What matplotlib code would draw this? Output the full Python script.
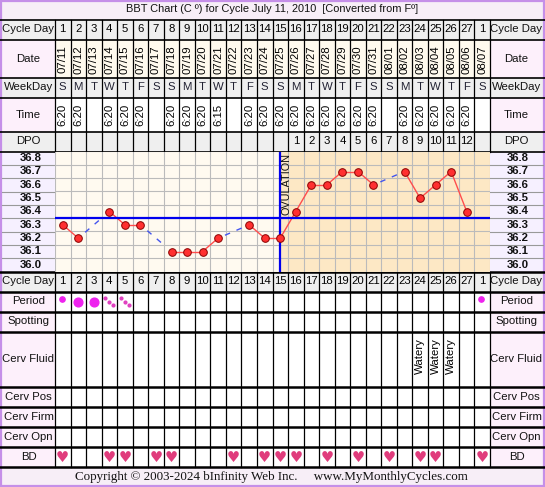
import numpy as np
import matplotlib.pyplot as plt
from matplotlib.patches import Rectangle

# ---- data ----
days = list(range(1, 29))
cycle_day = list(range(1, 28)) + [1]
dates = ['07/11', '07/12', '07/13', '07/14', '07/15', '07/16', '07/17', '07/18', '07/19', '07/20',
         '07/21', '07/22', '07/23', '07/24', '07/25', '07/26', '07/27', '07/28', '07/29', '07/30',
         '07/31', '08/01', '08/02', '08/03', '08/04', '08/05', '08/06', '08/07']
weekdays = list('SMTWTFS' * 4)
times = ['6:20', '6:20', '', '6:20', '6:20', '6:20', '', '6:20', '6:20', '6:20', '6:15', '',
         '6:20', '6:20', '6:20', '6:20', '6:20', '6:20', '6:20', '6:20', '6:20', '',
         '6:20', '6:20', '6:20', '6:20', '6:20', '']
dpo = [''] * 15 + [str(i) for i in range(1, 13)] + ['']
temps = [36.3, 36.2, None, 36.4, 36.3, 36.3, None, 36.1, 36.1, 36.1, 36.2, None, 36.3, 36.2,
         36.2, 36.4, 36.6, 36.6, 36.7, 36.7, 36.6, None, 36.7, 36.5, 36.6, 36.7, 36.4, None]
temp_labels = ['36.8', '36.7', '36.6', '36.5', '36.4', '36.3', '36.2', '36.1', '36.0']
coverline = 36.35
ovulation_day = 15
period_days = [1, 2, 3, 4, 5, 28]
period_type = ['light', 'heavy', 'heavy', 'spot', 'spot', 'light']
fluid_days = [24, 25, 26]
fluid_text = ['Watery', 'Watery', 'Watery']
bd_days = [1, 4, 5, 7, 8, 12, 14, 15, 16, 18, 20, 22, 24, 25, 28]

plt.rcParams['font.family'] = ['Liberation Sans', 'DejaVu Sans']

W, H = 545, 487
fig = plt.figure(figsize=(W / 100, H / 100), dpi=100)
ax = fig.add_axes([0, 0, 1, 1])
ax.set_xlim(0, W)
ax.set_ylim(H, 0)
ax.axis('off')

L, R = 55, 490
cw = (R - L) / 28.0
def cx(d):
    return L + (d - 0.5) * cw

# row boundaries (pixels)
rows = {
    'title': (0, 19.5), 'cd': (19.5, 39.5), 'date': (39.5, 77.5), 'wd': (77.5, 97.5),
    'time': (97.5, 131.5), 'dpo': (131.5, 151.5), 'temp': (151.5, 271.5),
    'cd2': (271.5, 291.5), 'period': (291.5, 311.5), 'spot': (311.5, 331.5),
    'fluid': (331.5, 386.5), 'pos': (386.5, 406.5), 'firm': (406.5, 426.5),
    'opn': (426.5, 446.5), 'bd': (446.5, 466.5), 'copy': (466.5, 487),
}
gray = '#efefef'
pink = '#fdf0fb'
lav = '#f6f0ff'
row_bg = {'cd': (gray, gray), 'date': (pink, '#fffaee'), 'wd': (gray, gray),
          'time': (pink, 'white'), 'dpo': (gray, gray), 'temp': (lav, None),
          'cd2': (gray, gray), 'period': (pink, 'white'), 'spot': (pink, 'white'),
          'fluid': (pink, 'white'), 'pos': (pink, 'white'), 'firm': (pink, 'white'),
          'opn': (pink, 'white'), 'bd': (pink, 'white')}

ax.add_patch(Rectangle((0, 0), W, 19.5, color='#f7eef7', lw=0))
ax.add_patch(Rectangle((0, 466.5), W, H - 466.5, color='#f7eef7', lw=0))
for key, (lab_c, cell_c) in row_bg.items():
    y0, y1 = rows[key]
    ax.add_patch(Rectangle((0, y0), L, y1 - y0, color=lab_c, lw=0))
    ax.add_patch(Rectangle((R, y0), W - R, y1 - y0, color=lab_c, lw=0))
    if cell_c:
        ax.add_patch(Rectangle((L, y0), R - L, y1 - y0, color=cell_c, lw=0))

fs = 8.2
def mid(key):
    return sum(rows[key]) / 2

labels = {'cd': 'Cycle Day', 'date': 'Date', 'wd': 'WeekDay', 'time': 'Time', 'dpo': 'DPO',
          'cd2': 'Cycle Day', 'period': 'Period', 'spot': 'Spotting', 'fluid': 'Cerv Fluid',
          'pos': 'Cerv Pos', 'firm': 'Cerv Firm', 'opn': 'Cerv Opn', 'bd': 'BD'}
for key, txt in labels.items():
    for x in (L / 2 + 1, (R + W) / 2 - 1):
        ax.text(x, mid(key), txt, ha='center', va='center', fontsize=fs, color='#111111')

# temperature labels in both side columns
ty0, ty1 = rows['temp']
rh = (ty1 - ty0) / len(temp_labels)
for i, t in enumerate(temp_labels):
    yc = ty0 + (i + 0.5) * rh
    for x in (L / 2 + 3, (R + W) / 2):
        ax.text(x, yc, t, ha='center', va='center', fontsize=8.2, fontweight='bold', color='#111111')
    if i > 0:
        for xa, xb in ((2, L), (R, W - 2)):
            ax.plot([xa, xb], [ty0 + i * rh] * 2, color='#999999', lw=0.8)

# cell contents
for i, d in enumerate(days):
    x = cx(d)
    ax.text(x, mid('cd'), str(cycle_day[i]), ha='center', va='center', fontsize=fs)
    ax.text(x, mid('cd2'), str(cycle_day[i]), ha='center', va='center', fontsize=fs)
    ax.text(x, mid('date') + 1, dates[i], ha='center', va='center', rotation=90, fontsize=fs)
    ax.text(x, mid('wd'), weekdays[i], ha='center', va='center', fontsize=fs, color='#222233')
    if times[i]:
        ax.text(x, mid('time'), times[i], ha='center', va='center', rotation=90, fontsize=fs)
    if dpo[i]:
        ax.text(x, mid('dpo'), dpo[i], ha='center', va='center', fontsize=fs)

for d, kind in zip(period_days, period_type):
    x, y = cx(d), mid('period')
    if kind == 'heavy':
        ax.plot(x, y, 'o', ms=6.3, color='#ee22ee', mec='#ee22ee')
    elif kind == 'light':
        ax.plot(x - 1, y - 3, 'o', ms=3.8, color='#ee22ee', mec='#ee22ee')
    else:
        ax.plot([x - 4, x, x + 4], [y - 3.5, y, y + 3.5], 'o', ms=2, color='#e040c0', mec='#e040c0')

for d, txt in zip(fluid_days, fluid_text):
    ax.text(cx(d), mid('fluid') - 3, txt, ha='center', va='center', rotation=90, fontsize=fs)

for d in bd_days:
    ax.text(cx(d), mid('bd') + 0.5, '\u2665', ha='center', va='center', fontsize=10.5,
            color='#e03c7c', family='DejaVu Sans')

# table lines
for k in range(29):
    x = L + k * cw
    ax.plot([x, x], [19.5, 151.5], color='black', lw=0.9)
    ax.plot([x, x], [271.5, 466.5], color='black', lw=0.9)
for y in (19.5, 39.5, 77.5, 97.5, 131.5, 151.5):
    ax.plot([0, W], [y, y], color='black', lw=1.2)
for y in (271.5, 291.5, 311.5, 331.5, 386.5, 406.5, 426.5, 446.5, 466.5):
    ax.plot([0, W], [y, y], color='black', lw=1.8)

ax.text(W / 2, 9.5, 'BBT Chart (C \u00ba) for Cycle July 11, 2010  [Converted from F\u00ba]',
        ha='center', va='center', fontsize=7.9, color='#111111')
ax.text(W / 2 - 1, 477, 'Copyright \u00a9 2003-2024 bInfinity Web Inc.     www.MyMonthlyCycles.com',
        ha='center', va='center', fontsize=9.4, family='Liberation Serif', color='#111111')
ax.add_patch(Rectangle((0.75, 0.75), W - 1.5, H - 1.5, fill=False, ec='#c58fe8', lw=1.6))

# ---- temperature chart ----
tax = fig.add_axes([L / W, 1 - ty1 / H, (R - L) / W, (ty1 - ty0) / H])
tax.set_xlim(0.5, 28.5)
tax.set_ylim(35.95, 36.85)
tax.axis('off')
tax.axvspan(0.5, ovulation_day, color='#fffaf0', lw=0)
tax.axvspan(ovulation_day, 28.5, color='#fde8c5', lw=0)
for k in range(29):
    tax.axvline(k + 0.5, color='#bbbbbb', lw=0.8)
for t in np.arange(35.95, 36.86, 0.1):
    tax.axhline(t, color='#bbbbbb', lw=0.8)

# solid segments between consecutive days, dashed across gaps
valid = [(d, t) for d, t in zip(days, temps) if t is not None]
for (d0, t0), (d1, t1) in zip(valid[:-1], valid[1:]):
    if d1 - d0 == 1:
        tax.plot([d0, d1], [t0, t1], color='#ff4d4d', lw=1, zorder=3)
    else:
        f = 0.22
        tax.plot([d0 + f * (d1 - d0), d1 - f * (d1 - d0)], [t0 + f * (t1 - t0), t1 - f * (t1 - t0)],
                 color='#4455ee', lw=1, ls=(0, (4, 5)), zorder=3)

tax.axhline(coverline, color='#0000ee', lw=1.6, zorder=4)
tax.axvline(ovulation_day, color='#0000ee', lw=1.6, zorder=4)
tax.text(ovulation_day + 0.43, 36.84, 'OVULATION', rotation=90, ha='center', va='top', fontsize=7.8,
         color='#111111', zorder=5)

vd = [d for d, t in valid]
vt = [t for d, t in valid]
tax.plot(vd, vt, 'o', ms=5.5, color='#ff3030', mec='#8a0000', mew=0.7, zorder=6)

fig.savefig('out.png', dpi=100)
